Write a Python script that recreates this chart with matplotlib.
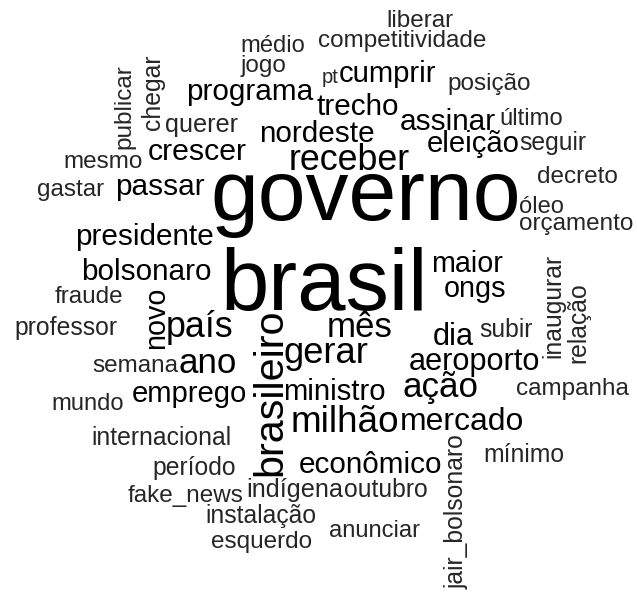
import matplotlib
matplotlib.use("Agg")
import matplotlib.pyplot as plt

# word cloud data: word and its relative weight (glyph em size, px)
words = [
    "liberar", "médio", "competitividade", "jogo", "pt", "cumprir", "posição",
    "publicar", "chegar", "programa", "trecho", "último", "assinar", "querer",
    "nordeste", "eleição", "seguir", "crescer", "mesmo", "receber", "decreto",
    "passar", "gastar", "governo", "óleo", "orçamento", "presidente", "maior",
    "bolsonaro", "brasil", "ongs", "fraude", "inaugurar", "relação", "novo",
    "professor", "país", "mês", "subir", "dia", "gerar", "semana", "ano",
    "aeroporto", "brasileiro", "emprego", "mundo", "ministro", "ação",
    "campanha", "milhão", "mercado", "internacional", "mínimo", "econômico",
    "jair_bolsonaro", "período", "fake_news", "indígena", "outubro",
    "instalação", "anunciar", "esquerdo",
]
weight = [
    24, 23.5, 24, 24, 20, 29, 24,
    24, 24.5, 29.5, 29.5, 23.5, 29.5, 25,
    29.5, 29, 24.5, 30, 24, 35.5, 24,
    29.5, 24, 85, 23.5, 24, 29.5, 28.5,
    29.5, 86, 28.5, 24, 24.5, 24.5, 28.5,
    24.5, 35.5, 34.5, 24.5, 30.5, 36, 24, 34.5,
    30.5, 41, 29, 23.5, 29, 34.5,
    24, 36.5, 31.5, 24.5, 24.5, 29.5,
    24.5, 24.5, 24, 25, 24.5,
    24.5, 23.5, 24,
]

# layout of the cloud (pixel grid of the original picture)
pos_x = [
    420, 273, 402, 264, 330, 388, 489,
    124, 153, 250, 358, 531, 448, 201,
    317, 473, 553, 197, 103, 349, 577,
    160, 71, 366, 541, 576, 144, 467,
    146, 324, 475, 89, 553, 578, 156,
    66, 200, 360, 506, 453, 326, 135, 208,
    474, 270, 189, 88, 334, 440,
    572, 345, 462, 161, 524, 371,
    457, 194, 186, 295, 386,
    261, 374, 262,
]
pos_y = [
    27, 52, 47, 72, 83, 82, 90,
    107, 92, 100, 115, 125, 130, 132,
    142, 152, 150, 160, 168, 170, 183,
    195, 196, 220, 213, 230, 245, 272,
    280, 310, 297, 303, 306, 323, 318,
    335, 337, 337, 337, 345, 363, 372, 373,
    370, 392, 402, 410, 400, 397,
    395, 432, 430, 445, 462, 473,
    512, 475, 502, 497, 497,
    523, 537, 548,
]
vertical = {"publicar", "chegar", "inaugurar", "relação", "novo",
            "brasileiro", "jair_bolsonaro"}

W, H, DPI = 637, 594, 100
fig = plt.figure(figsize=(W / DPI, H / DPI), dpi=DPI, facecolor="white")
ax = fig.add_axes([0, 0, 1, 1])
ax.set_xlim(0, W)
ax.set_ylim(H, 0)
ax.axis("off")

for w, s, x, y in zip(words, weight, pos_x, pos_y):
    fs = s * 72 / DPI * 1.01
    color = "#000000" if s >= 28 else "#262626"
    if w in vertical:
        ax.text(x, y, w, fontsize=fs, rotation=90, ha="center", va="center",
                family="Liberation Sans", color=color)
    else:
        ax.text(x, y, w, fontsize=fs, ha="center", va="baseline",
                family="Liberation Sans", color=color)

fig.savefig("out.png", dpi=DPI, facecolor="white")
